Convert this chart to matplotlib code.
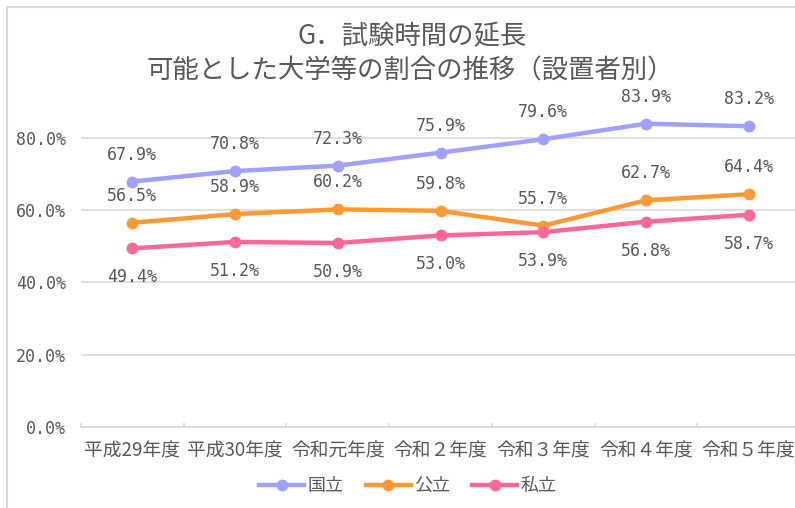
import matplotlib.pyplot as plt
from matplotlib.lines import Line2D
from matplotlib.patches import Rectangle

# data
years = ['平成29年度', '平成30年度', '令和元年度', '令和２年度',
         '令和３年度', '令和４年度', '令和５年度']
national = [67.9, 70.8, 72.3, 75.9, 79.6, 83.9, 83.2]
public = [56.5, 58.9, 60.2, 59.8, 55.7, 62.7, 64.4]
private = [49.4, 51.2, 50.9, 53.0, 53.9, 56.8, 58.7]
series_names = ['国立', '公立', '私立']

colors = ['#A0A0FF', '#FF9933', '#FF6699']
text_gray = '#595959'
grid_gray = '#D9D9D9'
jp_font = ['Noto Sans CJK JP', 'DejaVu Sans']
num_font = ['DejaVu Sans Mono']

fig = plt.figure(figsize=(7.95, 5.08), dpi=100)
W, H = 795, 508

# chart frame (cropped on the right and bottom like the reference)
fig.patches.append(Rectangle((7 / W, -0.1), 1.2, 1.1 - 7 / H,
                             transform=fig.transFigure, fill=False,
                             edgecolor=grid_gray, lw=1.5))

ax = fig.add_axes([81 / W, 81 / H, (800 - 81) / W, (427 - 65.5) / H])
x = list(range(len(years)))

labels_pos = [27, 27, -29]  # pixel offsets of the data labels
for vals, col, name, off in zip([national, public, private], colors,
                                series_names, labels_pos):
    ax.plot(x, vals, color=col, lw=3.2, marker='o', ms=7.5, label=name,
            solid_capstyle='round', zorder=3)
    for xi, v in zip(x, vals):
        ax.annotate(f'{v:.1f}%', (xi, v), xytext=(0, off * 0.72),
                    textcoords='offset points', ha='center', va='center',
                    fontsize=12, family=num_font, color=text_gray,
                    annotation_clip=False)

ax.set_xlim(-0.5, len(years) - 0.5)
ax.set_ylim(0, 100)
ax.set_yticks([0, 20, 40, 60, 80])
ax.set_yticklabels([f'{v:.1f}%' for v in [0, 20, 40, 60, 80]],
                   family=num_font, fontsize=12, color=text_gray)
ax.set_xticks(x)
ax.set_xticklabels(years, family=jp_font, fontsize=13.5, color=text_gray)
ax.set_xticks([i - 0.5 for i in range(len(years) + 1)], minor=True)
ax.tick_params(axis='x', which='major', length=0, pad=10)
ax.tick_params(axis='x', which='minor', direction='in', length=3,
               color=grid_gray, width=1.2)
ax.tick_params(axis='y', length=0, pad=11)
ax.grid(axis='y', color=grid_gray, lw=1.2)
ax.set_axisbelow(True)
for s in ['top', 'right', 'left']:
    ax.spines[s].set_visible(False)
ax.spines['bottom'].set_color(grid_gray)
ax.spines['bottom'].set_linewidth(1.2)

fig.text(412 / W, 1 - 37 / H, 'G．試験時間の延長', ha='center', va='center',
         fontsize=19, family=jp_font, color=text_gray)
fig.text(410 / W, 1 - 71 / H, '可能とした大学等の割合の推移（設置者別）',
         ha='center', va='center', fontsize=19, family=jp_font,
         color=text_gray)

handles = [Line2D([], [], color=c, lw=3.2, marker='o', ms=7.5) for c in colors]
fig.legend(handles, series_names, loc='center', ncol=3,
           bbox_to_anchor=(408 / W, 1 - 486 / H), frameon=False,
           prop={'family': 'Noto Sans CJK JP', 'size': 13},
           labelcolor=text_gray, handlelength=2.5, columnspacing=1.2,
           handletextpad=0.2)

fig.savefig('out.png', dpi=100)
